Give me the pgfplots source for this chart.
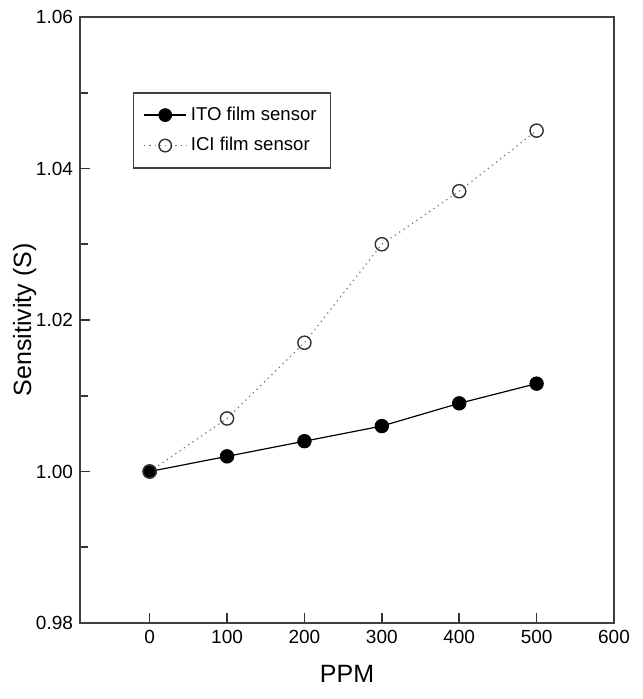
\documentclass[border=0pt]{standalone}
\usepackage{pgfplots}
\pgfplotsset{compat=1.18}
\usepackage{fontspec}
\setmainfont{Liberation Sans}
\begin{document}
\begin{tikzpicture}
\begin{axis}[
name=ax,
scale only axis,
width=267pt,
height=303pt,
xmin=-90, xmax=600,
ymin=0.98, ymax=1.06,
xtick={0,100,200,300,400,500,600},
ytick={0.98,1.00,1.02,1.04,1.06},
minor ytick={0.99,1.01,1.03,1.05},
yticklabel style={/pgf/number format/.cd,fixed,fixed zerofill,precision=2},
/pgf/number format/assume math mode=true,
tick align=inside,
xtick pos=bottom,
ytick pos=left,
major tick length=5pt,
minor tick length=4pt,
axis line style={black!75, line width=0.8pt},
every tick/.style={black!80, line width=0.8pt},
tick label style={font=\fontsize{9.5}{10}\selectfont},
xlabel={PPM},
ylabel={Sensitivity (S)},
label style={font=\fontsize{12.5}{14}\selectfont},
xlabel style={yshift=-4pt},
ylabel style={yshift=-7pt},
legend style={at={(0.099,0.876)}, anchor=north west, draw=black!75, line width=0.7pt,
  font=\fontsize{9.3}{11}\selectfont, inner xsep=5pt, inner ysep=5pt, row sep=3pt},
legend cell align=left,
legend image code/.code={\draw[mark repeat=2, mark phase=2, #1, every mark/.append style={scale=0.95}]
  plot coordinates {(0cm,0cm) (0.37cm,0cm) (0.74cm,0cm)};},
]
\addplot[black, line width=0.6pt, mark=*, mark size=3.3pt, mark options={fill=black}] coordinates {
(0,1.0000) (100,1.0020) (200,1.0040) (300,1.0060) (400,1.0090) (500,1.0116)
};
\addplot[black!55, dotted, line width=0.6pt, mark=o, mark size=3.3pt, mark options={solid, draw=black!80, fill=white, line width=0.7pt}] coordinates {
(0,1.0000) (100,1.0070) (200,1.0170) (300,1.0300) (400,1.0370) (500,1.0450)
};
\legend{ITO film sensor, ICI film sensor}
\end{axis}
\pgfresetboundingbox
\path ([shift={(-40pt,-38pt)}]ax.south west) rectangle ([shift={(14.5pt,8.5pt)}]ax.north east);
\end{tikzpicture}
\end{document}
